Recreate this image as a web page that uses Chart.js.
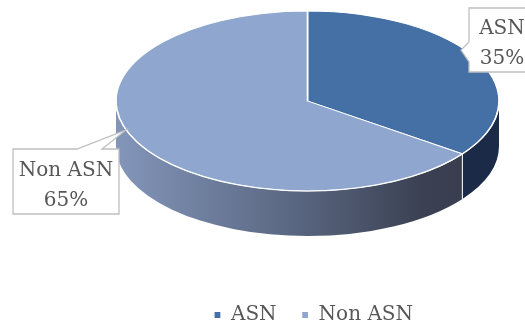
<!DOCTYPE html>
<html>
<head>
<meta charset="utf-8">
<script src="https://cdn.jsdelivr.net/npm/chart.js@4.4.0/dist/chart.umd.min.js"></script>
<style>
  html, body { margin: 0; padding: 0; background: #fff; }
  #wrap { width: 525px; height: 325px; }
</style>
</head>
<body>
<div id="wrap"><canvas id="pie"></canvas></div>
<script>
// data
const labels = ['ASN', 'Non ASN'];
const shares = [35, 65];

// styling
const topColors = ['#4470A5', '#8FA7CF'];
const sideColors = ['#1B2B47', null]; // null -> gradient wall
const textColor = '#575757';
const fontFamily = "'DejaVu Serif', 'Liberation Serif', serif";

// where the tilted pie sits on the canvas
const DISC = { cx: 307.5, cy: 101, rx: 191.5, ry: 90, depth: 45 };

// callout boxes for the data labels (tip = where the leader touches the rim)
const callouts = [
  { x: 469, y: 8, w: 66, h: 64, side: 'left', n1: 42, n2: 62, tip: [461, 50] },
  { x: 13, y: 149, w: 106, h: 65, side: 'top', n1: 77, n2: 102, tip: [126, 130] }
];

function wallGradient(ctx) {
  const { cx, rx } = DISC;
  const g = ctx.createLinearGradient(cx - rx, 0, cx + rx, 0);
  g.addColorStop(0, '#8396BA');
  g.addColorStop(0.45, '#5B6883');
  g.addColorStop(0.8, '#3B4153');
  g.addColorStop(1, '#363C4C');
  return g;
}

const tiltPlugin = {
  id: 'tilt',
  beforeDatasetsDraw(chart) {
    const ctx = chart.ctx;
    const arcs = chart.getDatasetMeta(0).data;
    const { cx, cy, rx, ry, depth } = DISC;

    // front wall of the disc (only the lower half is visible)
    ctx.save();
    arcs.forEach((arc, i) => {
      const a = Math.max(arc.startAngle, 0);
      const b = Math.min(arc.endAngle, Math.PI);
      if (a >= b) return;
      ctx.beginPath();
      ctx.ellipse(cx, cy, rx, ry, 0, a, b);
      ctx.ellipse(cx, cy + depth, rx, ry, 0, b, a, true);
      ctx.closePath();
      ctx.fillStyle = sideColors[i] || wallGradient(ctx);
      ctx.fill();
    });
    // slice seams on the wall
    ctx.strokeStyle = 'rgba(255,255,255,0.85)';
    ctx.lineWidth = 1.2;
    arcs.forEach(arc => {
      const t = arc.startAngle;
      if (t > 0 && t < Math.PI) {
        const px = cx + rx * Math.cos(t), py = cy + ry * Math.sin(t);
        ctx.beginPath();
        ctx.moveTo(px, py);
        ctx.lineTo(px, py + depth);
        ctx.stroke();
      }
    });
    ctx.restore();

    // squash the library's round pie into the tilted top face
    const ref = arcs[0];
    ctx.save();
    ctx.translate(cx, cy);
    ctx.scale(rx / ref.outerRadius, ry / ref.outerRadius);
    ctx.translate(-ref.x, -ref.y);
  },
  afterDatasetsDraw(chart) {
    const ctx = chart.ctx;
    ctx.restore();
    const { cx, cy, rx, ry } = DISC;
    ctx.save();
    ctx.strokeStyle = 'rgba(255,255,255,0.9)';
    ctx.lineWidth = 1.2;
    ctx.beginPath();
    ctx.ellipse(cx, cy, rx, ry, 0, 0, Math.PI);
    ctx.stroke();
    ctx.restore();
  },
  afterDraw(chart) {
    const ctx = chart.ctx;
    const total = shares.reduce((s, v) => s + v, 0);
    ctx.save();
    callouts.forEach((c, i) => {
      ctx.beginPath();
      if (c.side === 'left') {
        ctx.moveTo(c.x, c.y);
        ctx.lineTo(c.x + c.w, c.y);
        ctx.lineTo(c.x + c.w, c.y + c.h);
        ctx.lineTo(c.x, c.y + c.h);
        ctx.lineTo(c.x, c.n2);
        ctx.lineTo(c.tip[0], c.tip[1]);
        ctx.lineTo(c.x, c.n1);
      } else {
        ctx.moveTo(c.x, c.y);
        ctx.lineTo(c.n1, c.y);
        ctx.lineTo(c.tip[0], c.tip[1]);
        ctx.lineTo(c.n2, c.y);
        ctx.lineTo(c.x + c.w, c.y);
        ctx.lineTo(c.x + c.w, c.y + c.h);
        ctx.lineTo(c.x, c.y + c.h);
      }
      ctx.closePath();
      ctx.fillStyle = '#fff';
      ctx.fill();
      ctx.strokeStyle = '#BFBFBF';
      ctx.lineWidth = 1.3;
      ctx.stroke();

      ctx.fillStyle = textColor;
      ctx.font = '20px ' + fontFamily;
      ctx.textAlign = 'center';
      ctx.textBaseline = 'alphabetic';
      const mx = c.x + c.w / 2;
      const base = c.y + c.h / 2 - 6;
      ctx.fillText(labels[i], mx, base);
      ctx.fillText(Math.round(shares[i] / total * 100) + '%', mx, base + 30);
    });
    ctx.restore();
  }
};

new Chart(document.getElementById('pie'), {
  type: 'pie',
  data: {
    labels: labels,
    datasets: [{
      data: shares,
      backgroundColor: topColors,
      borderColor: '#ffffff',
      borderWidth: 1.2,
      clip: false
    }]
  },
  options: {
    responsive: true,
    maintainAspectRatio: false,
    animation: false,
    events: [],
    layout: { padding: { left: 102 } },
    plugins: {
      tooltip: { enabled: false },
      legend: {
        position: 'bottom',
        maxHeight: 45,
        labels: {
          boxWidth: 7,
          boxHeight: 7,
          padding: 25,
          color: textColor,
          font: { family: fontFamily, size: 20 }
        }
      }
    }
  },
  plugins: [tiltPlugin]
});
</script>
</body>
</html>
